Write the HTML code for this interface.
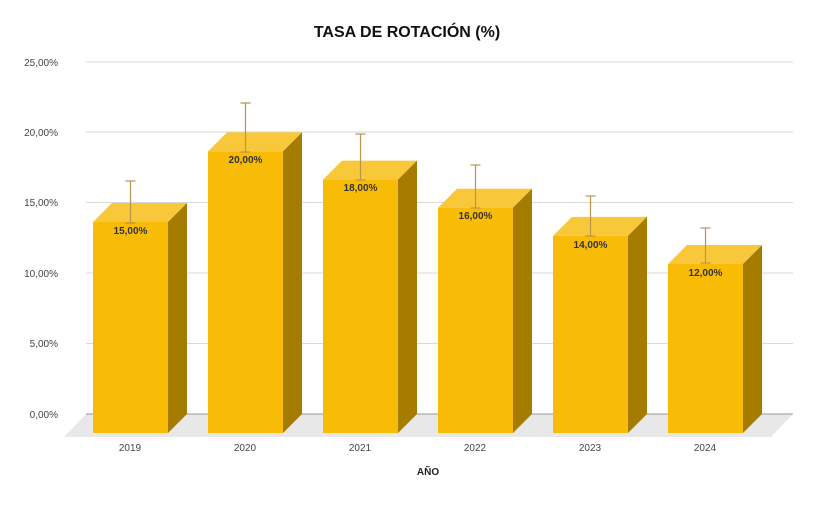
<!DOCTYPE html>
<html><head><meta charset="utf-8"><style>body{margin:0;background:#fff}</style></head><body>
<svg width="814" height="500" xmlns="http://www.w3.org/2000/svg" font-family="Liberation Sans, Arial, sans-serif">
<text x="407" y="37" text-anchor="middle" font-size="16" font-weight="bold" fill="#111">TASA DE ROTACIÓN (%)</text>
<polygon points="64,437 86,414 793,414 771,437" fill="#e8e8e8"/>
<g stroke="#d9d9d9" stroke-width="1">
<line x1="86" y1="62" x2="793" y2="62"/><line x1="86" y1="132" x2="793" y2="132"/>
<line x1="86" y1="202.5" x2="793" y2="202.5"/><line x1="86" y1="273" x2="793" y2="273"/>
<line x1="86" y1="343.5" x2="793" y2="343.5"/></g>
<line x1="86" y1="414" x2="793" y2="414" stroke="#999"/>
<g font-size="10" fill="#444" text-anchor="end">
<text x="58" y="66">25,00%</text><text x="58" y="136">20,00%</text><text x="58" y="206">15,00%</text>
<text x="58" y="277">10,00%</text><text x="58" y="347">5,00%</text><text x="58" y="418">0,00%</text></g>

<!-- 2019 -->
<polygon points="93,222 112,203 187,203 168,222" fill="#F9C73A"/>
<polygon points="168,222 187,203 187,414 168,433" fill="#A67C00"/>
<rect x="93" y="222" width="75" height="211" fill="#F9BC06"/>
<!-- 2020 -->
<polygon points="208,151.4 227,132.4 302,132.4 283,151.4" fill="#F9C73A"/>
<polygon points="283,151.4 302,132.4 302,414 283,433" fill="#A67C00"/>
<rect x="208" y="151.4" width="75" height="281.6" fill="#F9BC06"/>
<!-- 2021 -->
<polygon points="323,179.6 342,160.6 417,160.6 398,179.6" fill="#F9C73A"/>
<polygon points="398,179.6 417,160.6 417,414 398,433" fill="#A67C00"/>
<rect x="323" y="179.6" width="75" height="253.4" fill="#F9BC06"/>
<!-- 2022 -->
<polygon points="438,207.7 457,188.7 532,188.7 513,207.7" fill="#F9C73A"/>
<polygon points="513,207.7 532,188.7 532,414 513,433" fill="#A67C00"/>
<rect x="438" y="207.7" width="75" height="225.3" fill="#F9BC06"/>
<!-- 2023 -->
<polygon points="553,235.9 572,216.9 647,216.9 628,235.9" fill="#F9C73A"/>
<polygon points="628,235.9 647,216.9 647,414 628,433" fill="#A67C00"/>
<rect x="553" y="235.9" width="75" height="197.1" fill="#F9BC06"/>
<!-- 2024 -->
<polygon points="668,264 687,245 762,245 743,264" fill="#F9C73A"/>
<polygon points="743,264 762,245 762,414 743,433" fill="#A67C00"/>
<rect x="668" y="264" width="75" height="169" fill="#F9BC06"/>

<g stroke="#B8954A" stroke-width="1.2">
<line x1="130.5" y1="181" x2="130.5" y2="223"/><line x1="125.5" y1="181" x2="135.5" y2="181"/><line x1="125.5" y1="223" x2="135.5" y2="223"/>
<line x1="245.5" y1="103" x2="245.5" y2="152"/><line x1="240.5" y1="103" x2="250.5" y2="103"/><line x1="240.5" y1="152" x2="250.5" y2="152"/>
<line x1="360.5" y1="134" x2="360.5" y2="180"/><line x1="355.5" y1="134" x2="365.5" y2="134"/><line x1="355.5" y1="180" x2="365.5" y2="180"/>
<line x1="475.5" y1="165" x2="475.5" y2="208"/><line x1="470.5" y1="165" x2="480.5" y2="165"/><line x1="470.5" y1="208" x2="480.5" y2="208"/>
<line x1="590.5" y1="196" x2="590.5" y2="236"/><line x1="585.5" y1="196" x2="595.5" y2="196"/><line x1="585.5" y1="236" x2="595.5" y2="236"/>
<line x1="705.5" y1="228" x2="705.5" y2="263"/><line x1="700.5" y1="228" x2="710.5" y2="228"/><line x1="700.5" y1="263" x2="710.5" y2="263"/>
</g>
<g font-size="10" font-weight="bold" fill="#333" text-anchor="middle">
<text x="130.5" y="234">15,00%</text><text x="245.5" y="163">20,00%</text><text x="360.5" y="191">18,00%</text>
<text x="475.5" y="219">16,00%</text><text x="590.5" y="248">14,00%</text><text x="705.5" y="276">12,00%</text></g>

<g font-size="10" fill="#444" text-anchor="middle">
<text x="130" y="451">2019</text><text x="245" y="451">2020</text><text x="360" y="451">2021</text>
<text x="475" y="451">2022</text><text x="590" y="451">2023</text><text x="705" y="451">2024</text></g>
<text x="428" y="475" text-anchor="middle" font-size="10" font-weight="bold" fill="#222">AÑO</text>
</svg></body></html>
